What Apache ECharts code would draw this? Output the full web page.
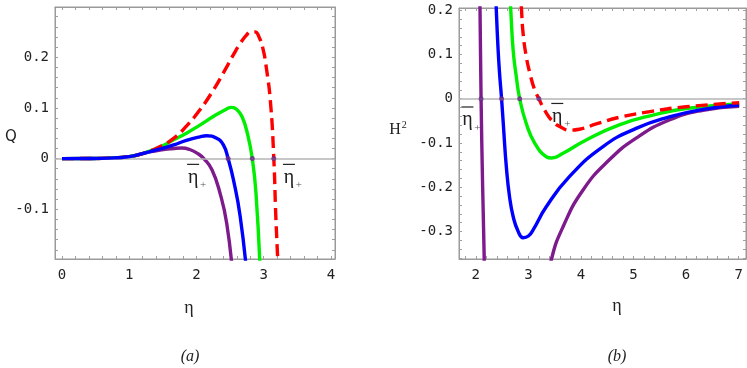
<!DOCTYPE html>
<html>
<head>
<meta charset="utf-8">
<script src="https://cdn.jsdelivr.net/npm/echarts@6/dist/echarts.min.js"></script>
<style>
  html, body { margin: 0; padding: 0; background: #fff; }
  #chart { width: 747px; height: 368px; }
</style>
</head>
<body>
<div id="chart"></div>
<script>
// ---- data ----
// (a) Q(eta)
const qRed = [[0, 0], [0.4, 0.0002], [0.7, 0.001], [1.0, 0.004], [1.2, 0.01], [1.46, 0.024], [1.66, 0.04],
  [1.85, 0.064], [2.05, 0.096], [2.25, 0.135], [2.45, 0.181], [2.55, 0.205], [2.65, 0.227], [2.74, 0.243],
  [2.81, 0.25], [2.87, 0.25], [2.93, 0.24], [2.99, 0.216], [3.04, 0.178], [3.1, 0.112], [3.15, 0], [3.18, -0.114], [3.22, -0.23]];
const qGreen = [[0, 0], [0.4, 0.0002], [0.7, 0.001], [1.0, 0.004], [1.2, 0.01], [1.46, 0.023], [1.66, 0.037],
  [1.85, 0.05], [2.05, 0.066], [2.25, 0.083], [2.45, 0.098], [2.52, 0.101], [2.6, 0.097], [2.68, 0.082],
  [2.76, 0.048], [2.83, 0], [2.885, -0.068], [2.95, -0.23]];
const qBlue = [[0, 0], [0.4, 0.0002], [0.7, 0.001], [1.0, 0.004], [1.2, 0.01], [1.46, 0.019], [1.66, 0.027],
  [1.85, 0.036], [2.05, 0.043], [2.15, 0.045], [2.3, 0.04], [2.4, 0.027], [2.47, 0], [2.55, -0.042],
  [2.65, -0.114], [2.75, -0.23]];
const qPurple = [[0, 0], [0.4, 0.0002], [0.7, 0.001], [1.0, 0.004], [1.26, 0.012], [1.46, 0.017], [1.66, 0.02],
  [1.78, 0.021], [1.9, 0.018], [2.03, 0.009], [2.11, 0], [2.23, -0.022], [2.35, -0.068], [2.45, -0.128], [2.54, -0.23]];
const qRoots = [[2.47, 0], [2.83, 0], [3.15, 0]];

// (b) H^2(eta)
const hRed = [[2.85, 0.25], [2.87, 0.2], [2.9, 0.147], [2.96, 0.095], [3.03, 0.057], [3.12, 0.02], [3.2, 0],
  [3.31, -0.026], [3.47, -0.052], [3.63, -0.065], [3.78, -0.071], [3.97, -0.069], [4.29, -0.057],
  [4.73, -0.042], [5.37, -0.028], [6.0, -0.018], [7.01, -0.009]];
const hGreen = [[2.64, 0.25], [2.665, 0.2], [2.71, 0.11], [2.77, 0.05], [2.835, 0], [2.96, -0.056], [3.12, -0.1],
  [3.34, -0.131], [3.44, -0.134], [3.66, -0.123], [4.1, -0.093], [4.73, -0.059], [5.37, -0.037],
  [6.0, -0.022], [7.01, -0.011]];
const hBlue = [[2.36, 0.3], [2.39, 0.2], [2.42, 0.12], [2.45, 0.06], [2.49, 0], [2.53, -0.07], [2.58, -0.153],
  [2.64, -0.22], [2.71, -0.266], [2.8, -0.298], [2.9, -0.314], [3.0, -0.31], [3.09, -0.296], [3.34, -0.244],
  [3.78, -0.176], [4.42, -0.108], [5.05, -0.067], [5.68, -0.041], [6.32, -0.024], [7.01, -0.014]];
const hPurpleA = [[2.065, 0.3], [2.08, 0.2], [2.1, 0], [2.13, -0.2], [2.16, -0.362], [2.17, -0.45]];
const hPurpleB = [[3.38, -0.42], [3.44, -0.362], [3.66, -0.289], [4.04, -0.206], [4.54, -0.138],
  [5.05, -0.089], [5.68, -0.048], [6.32, -0.026], [7.01, -0.017]];
const hRoots = [[2.1, 0], [2.49, 0], [2.835, 0], [3.2, 0]];

// tick labels
const qXTicks = [0, 1, 2, 3, 4];
const qYTicks = [-0.1, 0, 0.1, 0.2];
const hXTicks = [2, 3, 4, 5, 6, 7];
const hYTicks = [-0.3, -0.2, -0.1, 0, 0.1, 0.2];

// eta-bar-plus annotations (data coordinates)
const qMarks = [[1.95, -0.037], [3.375, -0.037]];
const hMarks = [[1.84, -0.048], [3.55, -0.040]];

// ---- helpers ----
const RED = '#ff0000', GREEN = '#00ee00', BLUE = '#0000ff', PURPLE = '#7d1a8c';
const frameColor = '#9a9a9a';
const labelFont = 'DejaVu Sans Mono';

// minor ticks every `step` between lo and hi
const minors = (lo, hi, step) => {
  const out = [];
  for (let v = Math.ceil(lo / step) * step; v <= hi + 1e-9; v += step) out.push(Math.round(v * 1000) / 1000);
  return out;
};

const makeAxis = (dim, gridIndex, min, max, majors, step, position, showLabel) => ({
  type: 'value',
  gridIndex,
  position,
  min,
  max,
  splitLine: { show: false },
  axisLine: { show: true, onZero: false, lineStyle: { color: frameColor, width: 1 } },
  axisTick: {
    show: true,
    inside: true,
    length: 3,
    customValues: minors(min, max, step),
    lineStyle: { color: '#a0a0a0', width: 1 }
  },
  axisLabel: {
    show: true,
    customValues: majors,
    formatter: showLabel ? undefined : () => '',
    color: '#222',
    fontFamily: labelFont,
    fontSize: 14,
    margin: dim === 'x' ? 9 : 6,
    showMinLabel: true,
    showMaxLabel: true
  }
});

const line = (data, color, xi, yi, z, dashed) => ({
  type: 'line',
  data,
  xAxisIndex: xi,
  yAxisIndex: yi,
  smooth: 0.5,
  showSymbol: false,
  clip: true,
  z,
  lineStyle: { color, width: 3.4, type: dashed ? [12, 6] : 'solid', cap: 'butt', join: 'round' }
});

const zeroLine = (xi, yi) => ({
  type: 'line',
  data: [],
  xAxisIndex: xi,
  yAxisIndex: yi,
  z: 1,
  markLine: {
    silent: true,
    symbol: 'none',
    label: { show: false },
    lineStyle: { color: '#b4b4b4', width: 1.5, type: 'solid' },
    data: [{ yAxis: 0 }]
  }
});

const roots = (data, xi, yi) => ({
  type: 'scatter',
  data,
  xAxisIndex: xi,
  yAxisIndex: yi,
  symbolSize: 5,
  z: 10,
  itemStyle: { color: '#6a2a8a' }
});

const chart = echarts.init(document.getElementById('chart'));

const option = {
  backgroundColor: '#fff',
  animation: false,
  grid: [
    { left: 55, top: 7, width: 280, height: 252, outerBoundsMode: 'none', containLabel: false,
      show: true, borderColor: frameColor, borderWidth: 1, backgroundColor: 'transparent' },
    { left: 459, top: 8, width: 287, height: 251, outerBoundsMode: 'none', containLabel: false,
      show: true, borderColor: frameColor, borderWidth: 1, backgroundColor: 'transparent' }
  ],
  xAxis: [
    makeAxis('x', 0, -0.104, 4.06, qXTicks, 0.2, 'bottom', true),
    makeAxis('x', 0, -0.104, 4.06, qXTicks, 0.2, 'top', false),
    makeAxis('x', 1, 1.68, 7.14, hXTicks, 0.2, 'bottom', true),
    makeAxis('x', 1, 1.68, 7.14, hXTicks, 0.2, 'top', false)
  ],
  yAxis: [
    makeAxis('y', 0, -0.198, 0.299, qYTicks, 0.02, 'left', true),
    makeAxis('y', 0, -0.198, 0.299, qYTicks, 0.02, 'right', false),
    makeAxis('y', 1, -0.362, 0.205, hYTicks, 0.02, 'left', true),
    makeAxis('y', 1, -0.362, 0.205, hYTicks, 0.02, 'right', false)
  ],
  series: [
    zeroLine(0, 0),
    line(qPurple, PURPLE, 0, 0, 2),
    line(qGreen, GREEN, 0, 0, 3),
    line(qRed, RED, 0, 0, 4, true),
    line(qBlue, BLUE, 0, 0, 5),
    roots(qRoots, 0, 0),
    zeroLine(2, 2),
    line(hPurpleA, PURPLE, 2, 2, 2),
    line(hPurpleB, PURPLE, 2, 2, 2),
    line(hGreen, GREEN, 2, 2, 3),
    line(hRed, RED, 2, 2, 4, true),
    line(hBlue, BLUE, 2, 2, 3),
    roots(hRoots, 2, 2)
  ]
};

chart.setOption(option);

// axis titles, panel captions and the eta-bar-plus marks
const serif = 'Liberation Serif';
const etaMark = ([px, py]) => ({
  type: 'group',
  children: [
    { type: 'text', x: px, y: py, style: { text: 'η', font: '20px ' + serif, fill: '#222', align: 'center', verticalAlign: 'middle' } },
    { type: 'line', shape: { x1: px - 6, y1: py - 13, x2: px + 6, y2: py - 13 }, style: { stroke: '#222', lineWidth: 1.2 } },
    { type: 'text', x: px + 10, y: py + 8, style: { text: '+', font: '11px ' + serif, fill: '#555', align: 'center', verticalAlign: 'middle' } }
  ]
});

const marks = [
  ...qMarks.map(p => etaMark(chart.convertToPixel({ xAxisIndex: 0, yAxisIndex: 0 }, p))),
  ...hMarks.map(p => etaMark(chart.convertToPixel({ xAxisIndex: 2, yAxisIndex: 2 }, p)))
];

chart.setOption({
  graphic: [
    ...marks,
    { type: 'text', x: 11, y: 137, style: { text: 'Q', font: '15px DejaVu Sans', fill: '#222', align: 'center', verticalAlign: 'middle' } },
    { type: 'text', x: 398, y: 130, style: {
        text: '{h|H}{s|2}', fill: '#222', align: 'center', verticalAlign: 'middle',
        rich: { h: { font: '16px ' + serif, fill: '#222' }, s: { font: '10px ' + serif, fill: '#222', verticalAlign: 'top', padding: [0, 0, 10, 1] } }
      } },
    { type: 'text', x: 189, y: 308, style: { text: 'η', font: '18px ' + serif, fill: '#222', align: 'center', verticalAlign: 'middle' } },
    { type: 'text', x: 617, y: 306, style: { text: 'η', font: '18px ' + serif, fill: '#222', align: 'center', verticalAlign: 'middle' } },
    { type: 'text', x: 190, y: 357, style: { text: '(a)', font: 'italic 16px ' + serif, fill: '#222', align: 'center', verticalAlign: 'middle' } },
    { type: 'text', x: 617, y: 357, style: { text: '(b)', font: 'italic 16px ' + serif, fill: '#222', align: 'center', verticalAlign: 'middle' } }
  ]
});
</script>
</body>
</html>
